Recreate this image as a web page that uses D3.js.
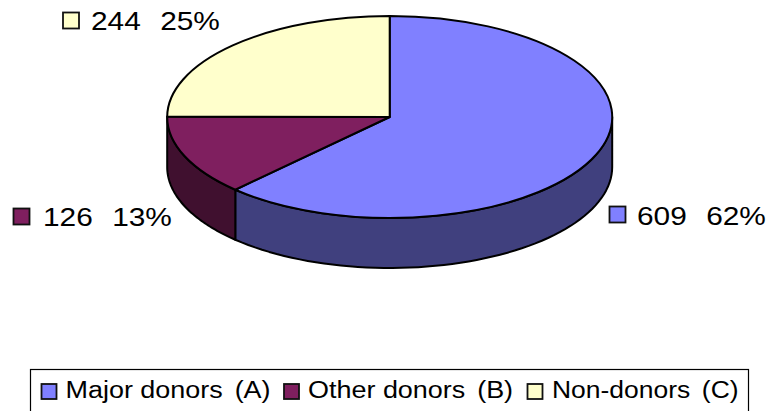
<!DOCTYPE html>
<html>
<head>
<meta charset="utf-8">
<script src="https://cdn.jsdelivr.net/npm/d3@7/dist/d3.min.js"></script>
<style>
html,body{margin:0;padding:0;background:#fff;overflow:hidden}
svg{display:block}
text{font-family:"Liberation Sans",Arial,sans-serif;fill:#000}
</style>
</head>
<body>
<svg id="c" width="771" height="411"></svg>
<script>
const categories = ["Major donors (A)", "Other donors (B)", "Non-donors (C)"];
const values = [609, 126, 244];
const percents = ["62%", "13%", "25%"];
const topColors = ["#8080ff", "#7f1f5f", "#ffffcc"];
const sideColors = ["#40407e", "#40102f", "#7f7f66"];

const cx = 389.7, cy = 117, rx = 222.5, ry = 101, depth = 50;
const svg = d3.select("#c");

const pie = d3.pie().sort(null).value(d => d.v)(values.map((v, i) => ({v, i})));

const px = a => cx + rx * Math.sin(a);
const py = a => cy - ry * Math.cos(a);

// Side walls: only the front half of the ellipse is visible (90 to 270 degrees clockwise from top)
const sideG = svg.append("g");
pie.forEach(p => {
  const a0 = Math.max(p.startAngle, Math.PI / 2);
  const a1 = Math.min(p.endAngle, 1.5 * Math.PI);
  if (a1 <= a0) return;
  const steps = d3.range(0, 61).map(k => a0 + (a1 - a0) * k / 60);
  const front = steps.map(a => [px(a), py(a)]);
  const back = steps.slice().reverse().map(a => [px(a), py(a) + depth]);
  sideG.append("path")
    .attr("d", d3.line()(front.concat(back)) + "Z")
    .attr("fill", sideColors[p.data.i])
    .attr("stroke", "#000").attr("stroke-width", 2).attr("stroke-linejoin", "round");
});

// Top face: d3.arc on a circle of radius rx, squashed to an ellipse
const arc = d3.arc().innerRadius(0).outerRadius(rx);
svg.append("g")
  .attr("transform", `translate(${cx},${cy}) scale(1,${ry / rx})`)
  .selectAll("path").data(pie).join("path")
  .attr("d", arc)
  .attr("fill", d => topColors[d.data.i])
  .attr("stroke", "#000").attr("stroke-width", 2)
  .attr("stroke-linejoin", "round")
  .attr("vector-effect", "non-scaling-stroke");

function swatch(x, y, s, color) {
  svg.append("rect").attr("x", x).attr("y", y).attr("width", s).attr("height", s)
    .attr("fill", color).attr("stroke", "#111").attr("stroke-width", 1.8);
}
// Two-part label: the second part is nudged right to match the wide gap in the source
function label(x, y, first, second, size, sx, gap) {
  const t = svg.append("text").attr("transform", `translate(${x},${y}) scale(${sx},1)`)
    .attr("font-size", size);
  t.append("tspan").text(first + " ");
  t.append("tspan").attr("dx", gap).text(second);
}

// Data labels
const labelAnchors = [
  {sw: [609.5, 206.5], tx: 637, ty: 224.5},
  {sw: [13.5, 208.5], tx: 43, ty: 225.5},
  {sw: [63, 12.5], tx: 91, ty: 30}
];
values.forEach((v, i) => {
  const a = labelAnchors[i];
  swatch(a.sw[0], a.sw[1], 16, topColors[i]);
  label(a.tx, a.ty, String(v), percents[i], 25.5, 1.17, 9.5);
});

// Legend: the frame runs off the bottom edge of the picture, as in the source
svg.append("rect").attr("x", 30.5).attr("y", 369.5).attr("width", 718).attr("height", 60)
  .attr("fill", "#fff").attr("stroke", "#000").attr("stroke-width", 1.2);
const legendPos = [{s: 41.5, t: 65.5, sx: 1.1}, {s: 284, t: 308, sx: 1.1}, {s: 527.5, t: 552, sx: 1.08}];
categories.forEach((c, i) => {
  swatch(legendPos[i].s, 384, 15, topColors[i]);
  const cut = c.lastIndexOf(" ");
  label(legendPos[i].t, 397.5, c.slice(0, cut), c.slice(cut + 1), 24.5, legendPos[i].sx, 4);
});
</script>
</body>
</html>
